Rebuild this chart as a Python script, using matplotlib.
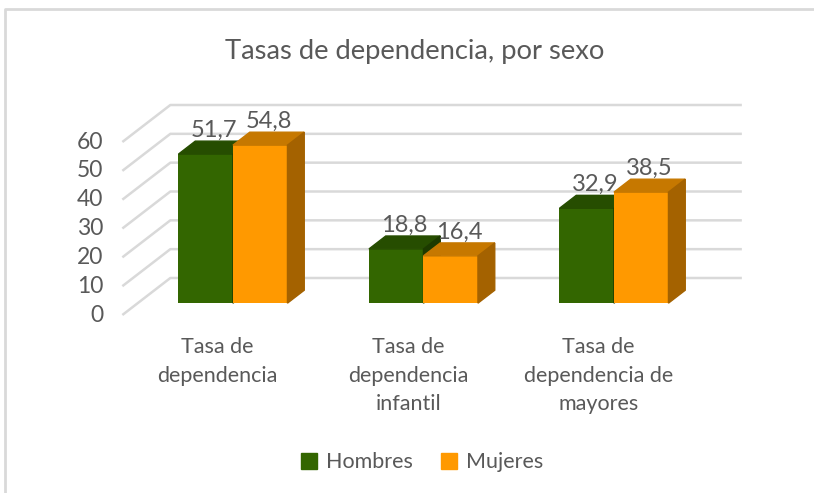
import matplotlib
matplotlib.use("Agg")
import matplotlib.pyplot as plt
from matplotlib.patches import Polygon, Patch

categorias = ["Tasa de\ndependencia", "Tasa de\ndependencia\ninfantil", "Tasa de\ndependencia de\nmayores"]
hombres = [51.7, 18.8, 32.9]
mujeres = [54.8, 16.4, 38.5]
series = ["Hombres", "Mujeres"]
yticks = [0, 10, 20, 30, 40, 50, 60]
titulo = "Tasas de dependencia, por sexo"

frente = ["#336600", "#ff9900"]
arriba = ["#264d00", "#c67800"]
lado = ["#1c3a00", "#a46200"]
gris = "#595959"
rejilla = "#d9d9d9"

plt.rcParams["font.family"] = ["Lato", "DejaVu Sans"]

W, H = 814, 493
fig = plt.figure(figsize=(W / 100, H / 100), dpi=100)
ax = fig.add_axes([0, 0, 1, 1])
ax.axis("off")

# escala: 1 categoria = 190.5 px, 10 unidades = 28.8 px
px_cat = 190.5
px_val = 173 / 60
x_left = -217.6 / px_cat
ax.set_xlim(x_left, x_left + W / px_cat)
y_bot = -178 / px_val
ax.set_ylim(y_bot, y_bot + H / px_val)

def dx(p):
    return p / px_cat

def dy(p):
    return p / px_val

# profundidad del suelo 3D
DX, DY = dx(48), dy(37)

for v in yticks:
    ax.plot([-0.5, -0.5 + DX, 2.5 + DX], [v, v + DY, v + DY], color=rejilla, lw=1.8,
            zorder=1, solid_capstyle="butt")
    ax.text(-0.5 - dx(19), v, str(v), ha="right", va="center", fontsize=16.5, color=gris)

ancho = dx(54.5)
d0, bd = 0.32, 0.35
for j, vals in enumerate([hombres, mujeres]):
    for i, v in enumerate(vals):
        xl = i - ancho + j * ancho + d0 * DX
        y0 = d0 * DY
        top = y0 + v
        ax.bar(xl, v, width=ancho, bottom=y0, align="edge", color=frente[j], zorder=3 + j)
        ax.add_patch(Polygon([(xl, top), (xl + ancho, top), (xl + ancho + bd * DX, top + bd * DY),
                              (xl + bd * DX, top + bd * DY)], closed=True, color=arriba[j], zorder=3 + j))
        ax.add_patch(Polygon([(xl + ancho, y0), (xl + ancho + bd * DX, y0 + bd * DY),
                              (xl + ancho + bd * DX, top + bd * DY), (xl + ancho, top)],
                             closed=True, color=lado[j], zorder=3 + j))
        ax.text(xl + ancho / 2 + bd * DX / 2, top + bd * DY + dy(11), f"{v:.1f}".replace(".", ","),
                ha="center", va="center", fontsize=17, color=gris, zorder=6)

# etiquetas de categoria, linea por linea
for i, cat in enumerate(categorias):
    for k, linea in enumerate(cat.split("\n")):
        ax.text(i, -dy(353.3 - 315) - k * dy(28.4), linea, ha="center", va="baseline",
                fontsize=15.5, color=gris)

ax.text(x_left + dx(415), y_bot + dy(H - 59), titulo, ha="center", va="baseline",
        fontsize=19.7, color=gris)

handles = [Patch(color=c) for c in frente]
fig.legend(handles, series, loc="center", bbox_to_anchor=(422 / W, 1 - 462.5 / H), ncol=2,
           frameon=False, fontsize=15.5, labelcolor=gris, handlelength=0.75, handleheight=0.75,
           handletextpad=0.4, columnspacing=1.3)

# marco
ax.plot([5 / W, 5 / W, 813 / W], [0, 1 - 9 / H, 1 - 9 / H], transform=ax.transAxes,
        color=rejilla, lw=2, clip_on=False)

fig.savefig("out.png", dpi=100)
